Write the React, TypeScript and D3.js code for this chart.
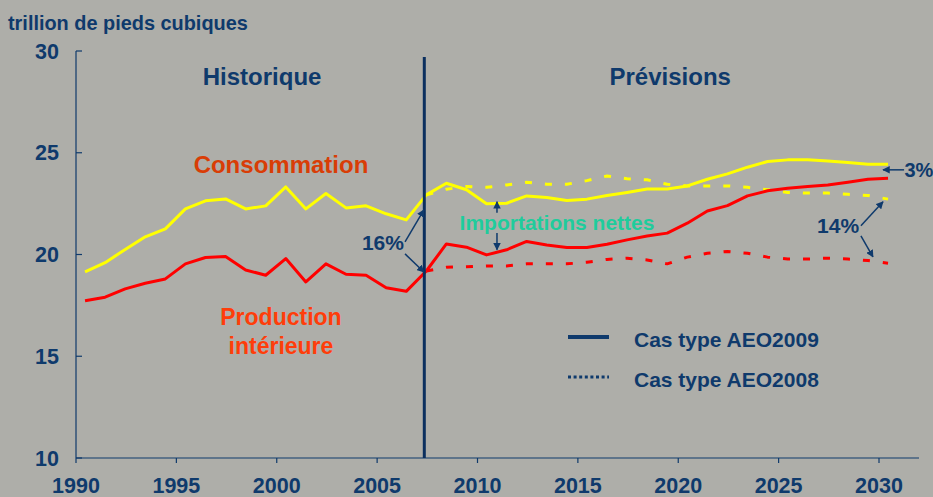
import React, { useEffect, useRef } from 'react';
import * as d3 from 'd3';

// historique 1990-2007, prévisions 2007-2030 (trillion de pieds cubiques)
const histYears = d3.range(1990, 2008);
const histConsumption = [19.15, 19.6, 20.25, 20.87, 21.26, 22.24, 22.64, 22.73, 22.24, 22.39, 23.32, 22.24, 23.0, 22.29, 22.39, 22.0, 21.7, 22.93];
const histProduction = [17.73, 17.9, 18.31, 18.59, 18.8, 19.54, 19.85, 19.9, 19.24, 18.98, 19.8, 18.65, 19.54, 19.03, 18.98, 18.37, 18.19, 19.19];

const projYears = d3.range(2007, 2031);
const aeo2009Consumption = [22.93, 23.5, 23.18, 22.49, 22.52, 22.88, 22.8, 22.65, 22.72, 22.9, 23.05, 23.22, 23.22, 23.37, 23.7, 23.96, 24.29, 24.57, 24.65, 24.65, 24.6, 24.52, 24.44, 24.44];
const aeo2009Production = [19.19, 20.52, 20.36, 19.98, 20.23, 20.64, 20.47, 20.34, 20.34, 20.5, 20.72, 20.91, 21.05, 21.54, 22.14, 22.4, 22.88, 23.13, 23.26, 23.34, 23.42, 23.55, 23.7, 23.75];
const aeo2008Consumption = [22.93, 23.21, 23.34, 23.3, 23.42, 23.55, 23.45, 23.45, 23.63, 23.86, 23.72, 23.67, 23.45, 23.37, 23.37, 23.37, 23.3, 23.18, 23.05, 23.02, 23.02, 22.96, 22.9, 22.72];
const aeo2008Production = [19.19, 19.37, 19.4, 19.44, 19.44, 19.54, 19.54, 19.54, 19.62, 19.76, 19.82, 19.73, 19.54, 19.87, 20.06, 20.15, 20.06, 19.87, 19.78, 19.78, 19.82, 19.78, 19.7, 19.57];

const xTicks = [1990, 1995, 2000, 2005, 2010, 2015, 2020, 2025, 2030];
const yTicks = [10, 15, 20, 25, 30];
const legendLabels = ['Cas type AEO2009', 'Cas type AEO2008'];

const W = 933;
const H = 497;
const NAVY = '#0f3a6c';
const FONT = '"Liberation Sans", Arial, Helvetica, sans-serif';

const App = () => {
    const domref = useRef(null);

    useEffect(() => {
        d3.select(domref.current).selectAll('svg').remove();

        const x = d3.scaleLinear().domain([1990, 2030]).range([76, 879]);
        const y = d3.scaleLinear().domain([10, 30]).range([458, 51]);
        const px = (yr) => x(yr + 0.45);

        const svg = d3.select(domref.current)
            .append('svg')
            .attr('width', W)
            .attr('height', H)
            .style('display', 'block')
            .attr('font-family', FONT)
            .attr('font-weight', 'bold');

        svg.append('rect').attr('width', W).attr('height', H).attr('fill', '#aeaea9');

        const defs = svg.append('defs');
        defs.append('marker')
            .attr('id', 'arrow')
            .attr('viewBox', '0 0 10 10')
            .attr('refX', 9).attr('refY', 5)
            .attr('markerWidth', 5).attr('markerHeight', 5)
            .attr('markerUnits', 'strokeWidth')
            .attr('orient', 'auto')
            .append('path')
            .attr('d', 'M0,0L10,5L0,10z')
            .attr('fill', NAVY);

        // axes
        svg.append('line')
            .attr('x1', 76).attr('x2', 76).attr('y1', y(30)).attr('y2', y(10))
            .attr('stroke', NAVY).attr('stroke-width', 1.2);
        svg.append('line')
            .attr('x1', 76).attr('x2', 919).attr('y1', y(10)).attr('y2', y(10))
            .attr('stroke', NAVY).attr('stroke-width', 1.2);

        svg.append('g').selectAll('line').data(yTicks).join('line')
            .attr('x1', 76).attr('x2', 82)
            .attr('y1', d => y(d)).attr('y2', d => y(d))
            .attr('stroke', NAVY).attr('stroke-width', 1.2);
        svg.append('g').selectAll('text').data(yTicks).join('text')
            .attr('x', 59).attr('y', d => y(d)).attr('dy', '0.36em')
            .attr('text-anchor', 'end').attr('font-size', 21.5).attr('fill', NAVY)
            .text(d => d);

        svg.append('g').selectAll('line').data(xTicks).join('line')
            .attr('x1', d => x(d)).attr('x2', d => x(d))
            .attr('y1', y(10)).attr('y2', y(10) + 5)
            .attr('stroke', NAVY).attr('stroke-width', 1.2);
        svg.append('g').selectAll('text').data(xTicks).join('text')
            .attr('x', d => x(d)).attr('y', 493)
            .attr('text-anchor', 'middle').attr('font-size', 21.5).attr('fill', NAVY)
            .text(d => d);

        svg.append('text')
            .attr('x', 8).attr('y', 30)
            .attr('font-size', 19.9).attr('fill', NAVY)
            .text('trillion de pieds cubiques');

        // séries
        const line = d3.line().x(d => px(d[0])).y(d => y(d[1]));
        const series = [
            { years: histYears, values: histConsumption, color: '#ffff00', dash: null },
            { years: histYears, values: histProduction, color: '#ff0000', dash: null },
            { years: projYears, values: aeo2008Consumption, color: '#ffff00', dash: '7,13' },
            { years: projYears, values: aeo2008Production, color: '#ff0000', dash: '7,13' },
            { years: projYears, values: aeo2009Consumption, color: '#ffff00', dash: null },
            { years: projYears, values: aeo2009Production, color: '#ff0000', dash: null },
        ];
        svg.append('g').selectAll('path').data(series).join('path')
            .attr('d', s => line(s.years.map((yr, i) => [yr, s.values[i]])))
            .attr('fill', 'none')
            .attr('stroke', s => s.color)
            .attr('stroke-width', 3)
            .attr('stroke-linejoin', 'round')
            .attr('stroke-dasharray', s => s.dash);

        // séparation historique / prévisions
        svg.append('line')
            .attr('x1', x(2007.35)).attr('x2', x(2007.35))
            .attr('y1', 57).attr('y2', y(10))
            .attr('stroke', '#0b2f5e').attr('stroke-width', 3);

        // étiquettes
        const labels = [
            { t: 'Historique', yr: 1999.27, v: 28.34, size: 24, color: NAVY, anchor: 'middle' },
            { t: 'Prévisions', yr: 2019.6, v: 28.34, size: 24, color: NAVY, anchor: 'middle' },
            { t: 'Consommation', yr: 2000.21, v: 24.01, size: 24, color: '#d93d06', anchor: 'middle' },
            { t: 'Production', yr: 2000.21, v: 16.53, size: 23, color: '#ff3d0a', anchor: 'middle' },
            { t: 'intérieure', yr: 2000.21, v: 15.1, size: 23, color: '#ff3d0a', anchor: 'middle' },
            { t: 'Importations nettes', yr: 2013.96, v: 21.21, size: 21, color: '#1fcc9c', anchor: 'middle' },
            { t: '16%', yr: 2005.29, v: 20.23, size: 21, color: NAVY, anchor: 'middle' },
            { t: '14%', yr: 2027.96, v: 21.06, size: 21, color: NAVY, anchor: 'middle' },
            { t: '3%', yr: 2031.27, v: 23.82, size: 20, color: NAVY, anchor: 'start' },
        ];
        svg.append('g').selectAll('text').data(labels).join('text')
            .attr('x', d => x(d.yr)).attr('y', d => y(d.v))
            .attr('text-anchor', d => d.anchor)
            .attr('font-size', d => d.size)
            .attr('fill', d => d.color)
            .text(d => d.t);

        // flèches
        const arrows = [
            [2006.39, 20.62, 2007.33, 22.19],
            [2006.39, 20.03, 2007.33, 19.14],
            [2010.97, 22.05, 2010.97, 22.59],
            [2010.97, 21.06, 2010.97, 20.23],
            [2029.1, 21.41, 2030.2, 22.59],
            [2029.1, 20.91, 2029.7, 19.88],
            [2031.25, 24.16, 2030.2, 24.16],
        ];
        svg.append('g').selectAll('line').data(arrows).join('line')
            .attr('x1', d => x(d[0])).attr('y1', d => y(d[1]))
            .attr('x2', d => x(d[2])).attr('y2', d => y(d[3]))
            .attr('stroke', NAVY).attr('stroke-width', 1.5)
            .attr('marker-end', 'url(#arrow)');

        // légende
        const legend = svg.append('g');
        legend.selectAll('line').data(legendLabels).join('line')
            .attr('x1', 568).attr('x2', 609)
            .attr('y1', (d, i) => 337 + i * 40).attr('y2', (d, i) => 337 + i * 40)
            .attr('stroke', NAVY)
            .attr('stroke-width', (d, i) => i === 0 ? 4 : 3)
            .attr('stroke-dasharray', (d, i) => i === 0 ? null : '3,2.6');
        legend.selectAll('text').data(legendLabels).join('text')
            .attr('x', 634).attr('y', (d, i) => 339 + i * 40).attr('dy', '0.36em')
            .attr('font-size', 21).attr('fill', NAVY)
            .text(d => d);
    }, []);

    return (
        <div ref={domref} style={{ position: 'absolute', left: 0, top: 0 }}></div>
    );
};

export default App;
